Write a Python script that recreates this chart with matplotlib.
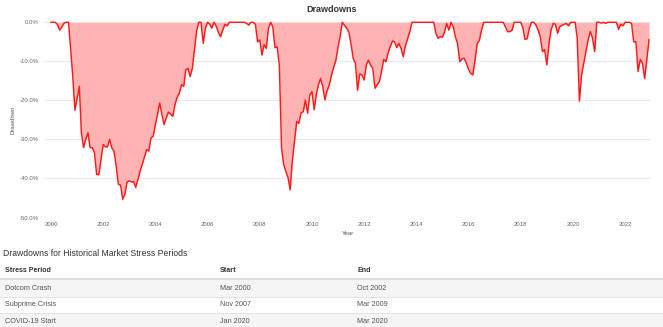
import numpy as np
import pandas as pd
import matplotlib
matplotlib.use("Agg")
import matplotlib.pyplot as plt
import matplotlib.dates as mdates
from matplotlib.ticker import FuncFormatter
from matplotlib.patches import Rectangle

plt.rcParams['font.family'] = ['Liberation Sans', 'DejaVu Sans']

# ---------------- data ----------------
start_date = "1999-12-31"
# monthly drawdown in percent, Dec 1999 .. Nov 2022
dd_1999 = [0.0]
dd_2000 = [0, 0, -0.6, -2.0, -1.2, -0.2, 0, 0, -6.5, -14.0, -22.5, -19.5]
dd_2001 = [-16.4, -28.3, -32.1, -30.0, -28.3, -32.1, -32.1, -33.4, -39.0, -39.0, -35.1, -31.3]
dd_2002 = [-31.9, -31.9, -30.0, -32.2, -33.0, -36.8, -41.5, -41.7, -45.3, -44.0, -40.9, -40.6]
dd_2003 = [-40.9, -40.8, -42.3, -40.3, -38.1, -36.4, -34.5, -32.6, -33.0, -29.6, -29.2, -26.2]
dd_2004 = [-23.5, -20.7, -23.6, -26.2, -24.5, -23.0, -23.5, -24.1, -21.1, -19.2, -18.1, -16.0]
dd_2005 = [-16.4, -12.2, -11.8, -13.9, -11.8, -7.0, -2.0, 0, 0, -5.4, -1.5, 0]
dd_2006 = [-0.5, -1.5, 0, -1.0, -2.6, -3.7, -2.0, -0.5, -0.9, 0, 0, 0]
dd_2007 = [0, 0, 0, 0, 0, -0.3, -0.7, 0, 0, -0.5, -5.0, -4.5]
dd_2008 = [-8.4, -5.7, -6.7, -1.6, 0, -1.2, -6.5, -6.3, -11.0, -32.2, -36.5, -38.2]
dd_2009 = [-39.9, -42.9, -35.5, -30.5, -25.4, -25.9, -23.2, -22.9, -19.9, -23.3, -18.6, -17.8]
dd_2010 = [-22.4, -18.6, -16.0, -14.4, -16.5, -19.9, -17.5, -16.0, -13.5, -11.5, -9.8, -6.3]
dd_2011 = [-3.5, 0, -0.8, -1.5, -2.5, -5.5, -9.3, -10.5, -17.4, -13.2, -13.5, -14.8]
dd_2012 = [-10.9, -9.7, -11.0, -11.8, -16.9, -16.0, -15.2, -12.6, -9.5, -10.1, -7.9, -6.2]
dd_2013 = [-4.8, -5.0, -6.5, -5.4, -6.7, -8.8, -6.0, -4.2, -2.4, 0, 0, 0]
dd_2014 = [0, 0, 0, 0, 0, 0, 0, 0, -2.8, -4.1, -3.7, -3.8]
dd_2015 = [-2.4, -0.3, -2.0, 0, -1.1, -3.7, -5.5, -10.1, -9.4, -9.2, -10.5, -12.0]
dd_2016 = [-13.1, -13.5, -9.7, -5.5, -4.6, -2.0, 0, 0, 0, 0, 0, 0]
dd_2017 = [0, 0, 0, 0, -1.2, -2.4, -2.4, -2.0, 0, 0, 0, 0]
dd_2018 = [-1.5, -4.4, -4.2, -1.5, 0, 0, -0.7, -2.0, -3.7, -7.5, -7.0, -10.9]
dd_2019 = [-5.4, -2.0, -0.3, -0.5, -2.8, -1.1, -0.8, -0.5, -0.3, -0.9, 0, 0]
dd_2020 = [0, -4.0, -20.2, -13.5, -10.5, -7.5, -4.5, -2.4, -4.0, -7.5, 0, 0]
dd_2021 = [-0.2, 0, -0.3, 0, 0, 0, 0, 0, -1.8, -0.5, -0.9, 0]
dd_2022 = [0, 0, -0.3, -5.0, -5.0, -12.6, -9.5, -10.5, -14.4, -9.5, -4.5]

drawdown = (dd_1999 + dd_2000 + dd_2001 + dd_2002 + dd_2003 + dd_2004 + dd_2005 +
            dd_2006 + dd_2007 + dd_2008 + dd_2009 + dd_2010 + dd_2011 + dd_2012 +
            dd_2013 + dd_2014 + dd_2015 + dd_2016 + dd_2017 + dd_2018 + dd_2019 +
            dd_2020 + dd_2021 + dd_2022)
dates = pd.date_range(start_date, periods=len(drawdown), freq="ME")

y_ticks = [0, -10, -20, -30, -40, -50]

stress_periods = ["Dotcom Crash", "Subprime Crisis", "COVID-19 Start"]
stress_starts = ["Mar 2000", "Nov 2007", "Jan 2020"]
stress_ends = ["Oct 2002", "Mar 2009", "Mar 2020"]
table_headers = ["Stress Period", "Start", "End"]

# ---------------- figure ----------------
W, H = 663, 327
fig = plt.figure(figsize=(W / 100, H / 100), dpi=100)
fig.patch.set_facecolor("white")

ax_l, ax_r, ax_t, ax_b = 44, 651, 22.3, 217.5
ax = fig.add_axes([ax_l / W, 1 - ax_b / H, (ax_r - ax_l) / W, (ax_b - ax_t) / H])

vals = np.array(drawdown, dtype=float)
ax.fill_between(dates, vals, 0, color="#ffb3b3", linewidth=0)
ax.plot(dates, vals, color="#ff1a1a", linewidth=1.05, clip_on=False)

ax.set_ylim(-50, 0)
ax.set_xlim(pd.Timestamp("1999-09-24"), pd.Timestamp("2022-12-28"))
ax.set_yticks(y_ticks)
ax.yaxis.set_major_formatter(FuncFormatter(lambda v, p: f"{v:.1f}%"))
ax.xaxis.set_major_locator(mdates.YearLocator(2))
ax.xaxis.set_major_formatter(mdates.DateFormatter("%Y"))
ax.grid(axis="y", color="#ebebeb", linewidth=0.8)
ax.set_axisbelow(True)
for s in ax.spines.values():
    s.set_visible(False)
ax.tick_params(axis="both", length=0, labelsize=4.3, colors="#666666")
ax.tick_params(axis="y", pad=4)
ax.tick_params(axis="x", pad=3)
ax.set_xlabel("Year", fontsize=4.3, color="#555555", labelpad=3)
ax.set_ylabel("Drawdown", fontsize=4.3, color="#555555", labelpad=3)

fig.text(0.5, 1 - 10 / H, "Drawdowns", ha="center", va="center",
         fontsize=6.5, fontweight="bold", color="#333333")

# ---------------- table ----------------
tax = fig.add_axes([0, 0, 1, 97 / H])
tax.set_xlim(0, W)
tax.set_ylim(327, 230)
tax.axis("off")

tax.text(3, 253, "Drawdowns for Historical Market Stress Periods", ha="left", va="center",
         fontsize=6.2, color="#333333")
col_x = [5, 220, 357]
for cx, h in zip(col_x, table_headers):
    tax.text(cx, 270, h, ha="left", va="center", fontsize=5.1, fontweight="bold", color="#333333")
tax.plot([0, W], [279, 279], color="#dddddd", linewidth=1.4, solid_capstyle="butt")

row_top = 280
row_h = 16.5
for i, (p, s, e) in enumerate(zip(stress_periods, stress_starts, stress_ends)):
    top = row_top + i * row_h
    if i % 2 == 0:
        tax.add_patch(Rectangle((0, top), W, row_h, facecolor="#f5f5f5", edgecolor="none"))
    if i > 0:
        tax.plot([0, W], [top, top], color="#e3e3e3", linewidth=0.7)
    cy = top + row_h / 2
    for cx, t in zip(col_x, [p, s, e]):
        tax.text(cx, cy, t, ha="left", va="center", fontsize=5.2, color="#555555")

fig.savefig("out.png", dpi=100)
